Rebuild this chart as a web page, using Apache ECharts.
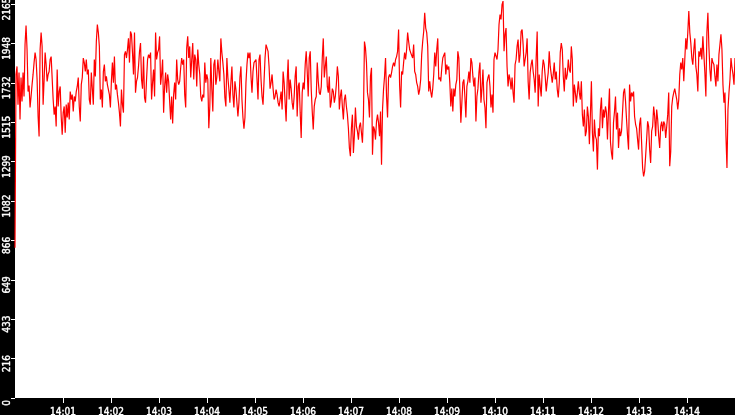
<!DOCTYPE html>
<html>
<head>
<meta charset="utf-8">
<script src="https://cdn.jsdelivr.net/npm/echarts@6/dist/echarts.min.js"></script>
<style>
html,body{margin:0;padding:0;background:#000;}
#chart{width:735px;height:415px;}
</style>
</head>
<body>
<div id="chart"></div>
<script>
// Time span of the record (seconds after 14:00:00)
const spanSeconds = 900;

// Sampled values, read left to right from the picture
const values = [
825,1778,1822,1612,1788,1530,1761,1630,1788,1657,
1942,2047,1915,1684,1717,1596,1657,1722,1778,1843,
1898,1860,1750,1547,1437,1915,2008,1932,1612,1750,
1898,1832,1740,1778,1794,1860,1876,1868,1640,1557,
1602,1492,1805,1602,1684,1712,1547,1447,1568,1602,
1458,1612,1541,1623,1530,1684,1640,1667,1574,1657,
1630,1684,1712,1761,1602,1519,1722,1761,1868,1843,
1794,1860,1778,1805,1640,1612,1788,1700,1612,1860,
1767,1959,2052,2008,1932,1640,1695,1596,1794,1832,
1740,1767,1722,1712,1667,1596,1740,1843,1733,1876,
1695,1722,1667,1623,1568,1492,1695,1612,1568,1887,
1905,1868,1915,1976,1843,2014,1998,1898,1778,
2008,1678,1740,1761,1822,1905,1950,1750,1700,1876,
1651,1623,1750,1860,1887,1868,1898,1640,1733,1805,
1657,2008,1860,1898,1915,1987,1722,1778,1860,1568,
1712,1788,1678,1778,1740,1630,1530,1657,1508,1667,
1733,1640,1860,1750,1722,1740,1815,1868,1832,1860,
1667,1596,1924,1987,1868,1932,1761,1860,1950,1750,
1887,1860,1712,1915,1832,1778,1657,1630,1667,1651,
1843,1733,1778,1750,1482,1602,1868,1700,1574,1832,
1860,1722,1761,1860,1794,1740,1976,1898,1843,1778,
1651,1602,1868,1761,1695,1623,1733,1822,1667,1596,
1740,1695,1623,1547,1623,1761,1822,1640,1541,1480,
1541,1733,1832,1898,1868,1898,1767,1678,1794,1843,
1843,1860,1750,1640,1860,1887,1750,1657,1612,1740,
1868,1942,1950,1905,1822,1700,1733,1778,1700,1640,
1657,1695,1667,1623,1602,1640,1684,1585,1794,1733,
1623,1519,1733,1860,1640,1750,1700,1623,1585,1657,
1767,1822,1547,1712,1733,1568,1429,1678,1733,1695,
1832,1905,1794,1657,1868,1905,1695,1574,1475,1602,
1640,1657,1843,1740,1678,1667,1712,1868,1976,1761,
1822,1876,1712,1678,1767,1596,1630,1700,1684,1623,
1657,1722,1822,1767,1585,1657,1695,1602,1530,1640,
1667,1602,1557,1482,1374,1329,1482,1557,1346,1447,
1596,1492,1466,1420,1492,1513,1519,1403,1557,1959,
1924,1843,1678,1640,1541,1767,1815,1337,1492,1475,
1420,1519,1557,1513,1439,1574,1282,1585,1695,1767,
1868,1657,1541,1761,1778,1761,1788,1822,1843,1822,
1860,1876,1905,2025,1722,1596,1794,1778,1843,1898,
1860,1915,2008,1959,1915,1898,1905,1868,1942,1794,
1778,1733,1712,1667,1695,1750,1887,1959,2014,2117,
2033,2008,1932,1684,1740,1684,1651,1700,1778,1898,
1822,1915,1976,1750,1761,1740,1815,1868,1860,1898,
1778,1832,1805,1822,1733,1602,1700,1574,1700,1657,
1722,1750,1905,1868,1695,1513,1623,1733,1750,1657,
1541,1712,1740,1794,1733,1868,1843,1767,1712,1761,
1519,1657,1700,1788,1843,1623,1700,1805,1640,1596,
1482,1733,1761,1778,1712,1596,1667,1568,1860,1898,
1898,1860,1915,2052,2107,2080,2162,2181,1905,1998,
2033,1822,1712,1778,1750,1695,1761,1678,1623,1832,
1860,1932,1970,1843,1887,2014,2025,1942,1822,1860,
1898,1976,1740,1640,1788,1832,1860,1794,1750,1678,
1868,2014,1602,1778,1712,1657,1794,1860,1832,1767,
1684,1740,1788,1905,1822,1778,1733,1778,1843,1750,
1794,1695,1651,1733,1898,1950,1915,1767,1684,1815,
1750,1778,1860,1805,1788,1932,1860,1602,1722,1678,
1623,1678,1740,1678,1640,1740,1557,1492,1585,1439,
1466,1602,1547,1395,1557,1740,1458,1355,1530,1439,
1420,1255,1482,1439,1585,1651,1482,1585,1541,1602,
1568,1420,1574,1700,1403,1346,1310,1513,1574,1657,
1475,1568,1374,1482,1439,1466,1458,1678,1700,1630,
1530,1439,1365,1722,1630,1678,1657,1684,1547,1504,
1482,1420,1365,1504,1541,1403,1264,1218,1246,1329,
1420,1520,1492,1365,1292,1466,1492,1602,1547,1439,
1585,1530,1439,1374,1492,1519,1466,1519,1504,1429,
1492,1557,1678,1273,1355,1602,1651,1678,1700,1695,
1640,1585,1640,1778,1843,1805,1868,1740,1860,1976,
1915,2008,2126,2008,1950,1868,1832,1915,1976,1822,
1778,1684,1905,1876,1924,1860,1987,1887,1788,1657,
2008,2117,1932,1805,1740,1868,1843,1832,1767,1712,
1832,1740,1887,1942,1998,1915,1722,1623,1678,1439,
1264,1585,1678,1750,1868,1815,1778,1722,1868
];

// X ticks (seconds after 14:00:00) and their labels
const xTickSeconds = [60,120,180,240,300,360,420,480,540,600,660,720,780,840];
const xTickLabels = ['14:01','14:02','14:03','14:04','14:05','14:06','14:07','14:08','14:09','14:10','14:11','14:12','14:13','14:14'];

// Y ticks and their labels
const yTickValues = [0,216.5,433,649.5,866,1082.5,1299,1515.5,1732,1948.5,2165];
const yTickLabels = ['0','216','433','649','866','1082','1299','1515','1732','1948','2165'];
const yMax = 2187;

const step = spanSeconds / (values.length - 1);
const seriesData = values.map((v, i) => [i * step, v]);

function labelFor(list, labels, v) {
  for (let i = 0; i < list.length; i++) {
    if (Math.abs(list[i] - v) < 1e-6) return labels[i];
  }
  return '';
}

const chart = echarts.init(document.getElementById('chart'), null, {renderer: 'canvas'});
chart.setOption({
  backgroundColor: '#000',
  animation: false,
  grid: {left: 15, right: 0, top: 0, bottom: 17, show: true, backgroundColor: '#fff', borderWidth: 0,
         containLabel: false, outerBoundsMode: 'none'},
  xAxis: {
    type: 'value', min: 0, max: spanSeconds,
    axisLine: {show: false},
    splitLine: {show: false},
    axisTick: {show: true, customValues: xTickSeconds, length: 5, lineStyle: {color: '#fff', width: 1}},
    axisLabel: {
      customValues: xTickSeconds,
      formatter: (v) => labelFor(xTickSeconds, xTickLabels, v),
      color: '#fff', fontSize: 10, fontFamily: 'DejaVu Sans Condensed', margin: 9,
      textBorderColor: '#fff', textBorderWidth: 0.4
    }
  },
  yAxis: {
    type: 'value', min: 0, max: yMax,
    axisLine: {show: false},
    splitLine: {show: false},
    axisTick: {show: true, customValues: yTickValues, length: 4, lineStyle: {color: '#fff', width: 1}},
    axisLabel: {
      customValues: yTickValues,
      formatter: (v) => labelFor(yTickValues, yTickLabels, v),
      rotate: 90,
      color: '#fff', fontSize: 10, fontFamily: 'DejaVu Sans Condensed', margin: 3,
      textBorderColor: '#fff', textBorderWidth: 0.4,
      padding: [0, 10, 0, 0]
    }
  },
  series: [{
    type: 'line',
    data: seriesData,
    showSymbol: false,
    symbol: 'none',
    sampling: null,
    lineStyle: {color: '#ff0000', width: 1.2},
    clip: true
  }]
});
</script>
</body>
</html>
